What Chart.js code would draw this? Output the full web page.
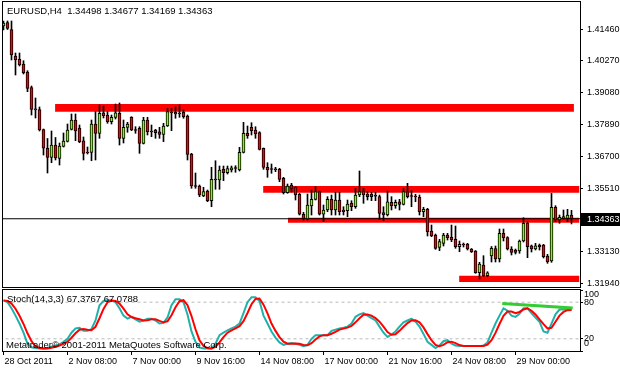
<!DOCTYPE html>
<html lang="en">
<head>
<meta charset="UTF-8">
<title>EURUSD,H4</title>
<script src="https://cdn.jsdelivr.net/npm/chart.js"></script>
<style>
  body { margin: 0; background: #fff; }
  #wrap { position: relative; width: 620px; height: 370px; overflow: hidden; }
  canvas { position: absolute; left: 0; }
  .txt { position: absolute; font-family: "Liberation Sans", Arial, sans-serif; font-size: 9.5px; line-height: 12px; color: #000; white-space: pre; }
</style>
</head>
<body>
<div id="wrap">
  <canvas id="priceChart" width="620" height="288" style="top:0"></canvas>
  <canvas id="stochChart" width="620" height="82" style="top:288px"></canvas>
  <div class="txt" style="left:7px;top:5px">EURUSD,H4  1.34498 1.34677 1.34169 1.34363</div>
  <div class="txt" style="left:7px;top:293px">Stoch(14,3,3) 67.3767 67.0788</div>
  <div class="txt" style="left:6px;top:339px">Metatrader© 2001-2011 MetaQuotes Software Corp.</div>
</div>

<script>
// EURUSD H4 candles, 28 Oct - 1 Dec 2011
const open = [
  1.41580, 1.41703, 1.41449, 1.40456, 1.40333, 1.40157, 1.39857, 1.39277, 1.38461, 1.38453,
  1.37705, 1.37001, 1.36656, 1.37124, 1.36619, 1.37068, 1.37255, 1.37712, 1.38060, 1.37761,
  1.37285, 1.36862, 1.36851, 1.37910, 1.37562, 1.38333, 1.38247, 1.37997, 1.38161, 1.38311,
  1.37375, 1.37787, 1.38161, 1.37705, 1.37749, 1.37188, 1.38060, 1.37648, 1.37686, 1.37622,
  1.37525, 1.37836, 1.38360, 1.38348, 1.38311, 1.38348, 1.38210, 1.36787, 1.35608, 1.35589,
  1.35215, 1.35402, 1.35039, 1.35851, 1.35814, 1.36214, 1.36087, 1.36188, 1.36263, 1.36188,
  1.36851, 1.37562, 1.37787, 1.37686, 1.37585, 1.37001, 1.36289, 1.36226, 1.36214, 1.36214,
  1.35877, 1.35338, 1.35627, 1.35541, 1.35278, 1.34530, 1.34354, 1.34840, 1.35091, 1.35376,
  1.34530, 1.34691, 1.35091, 1.34691, 1.35065, 1.34691, 1.34664, 1.34941, 1.34814, 1.35252,
  1.35413, 1.35290, 1.35278, 1.35215, 1.35189, 1.34590, 1.34503, 1.34979, 1.34852, 1.35001,
  1.34904, 1.35376, 1.35215, 1.35196, 1.35166, 1.34627, 1.34717, 1.33904, 1.33755, 1.33294,
  1.33444, 1.33755, 1.33669, 1.33594, 1.33317, 1.33391, 1.33418, 1.33230, 1.33156, 1.32343,
  1.32631, 1.32231, 1.32968, 1.33249, 1.32856, 1.33818, 1.33654, 1.33230, 1.33193, 1.33156,
  1.33530, 1.34193, 1.33354, 1.33230, 1.33380, 1.33380, 1.32968, 1.32781, 1.34792, 1.34316,
  1.34402, 1.34380, 1.34498
];
const high = [
  1.41767, 1.41767, 1.41767, 1.40569, 1.40569, 1.40280, 1.39906, 1.39333, 1.38884, 1.38547,
  1.37723, 1.37368, 1.37648, 1.37405, 1.37199, 1.37574, 1.37910, 1.38285, 1.38285, 1.37873,
  1.37424, 1.37049, 1.38060, 1.38371, 1.38622, 1.38584, 1.38371, 1.38247, 1.38659, 1.38697,
  1.38060, 1.37974, 1.38184, 1.37809, 1.37809, 1.38161, 1.38161, 1.37873, 1.37712, 1.37787,
  1.37937, 1.38498, 1.38498, 1.38558, 1.38622, 1.38435, 1.38247, 1.36813, 1.36076, 1.35627,
  1.35541, 1.35439, 1.36289, 1.36536, 1.36338, 1.36338, 1.36338, 1.36338, 1.36349, 1.37038,
  1.37974, 1.37836, 1.37959, 1.37809, 1.37622, 1.37012, 1.36462, 1.36413, 1.36289, 1.36252,
  1.35915, 1.35664, 1.35690, 1.35563, 1.35316, 1.34605, 1.35290, 1.35439, 1.35563, 1.35402,
  1.34878, 1.35189, 1.35252, 1.35353, 1.35353, 1.34814, 1.35065, 1.35039, 1.35503, 1.36151,
  1.35503, 1.35376, 1.35353, 1.35353, 1.35252, 1.34814, 1.35402, 1.35189, 1.35065, 1.35091,
  1.35503, 1.35690, 1.35413, 1.35278, 1.35252, 1.34792, 1.34754, 1.34129, 1.33792, 1.33594,
  1.33818, 1.33818, 1.34129, 1.34092, 1.33530, 1.33455, 1.33444, 1.33249, 1.33174, 1.32732,
  1.32980, 1.32381, 1.33324, 1.33343, 1.33979, 1.33979, 1.33691, 1.33317, 1.33230, 1.33567,
  1.34402, 1.34253, 1.33380, 1.33444, 1.33418, 1.33406, 1.33032, 1.35316, 1.34852, 1.34503,
  1.34691, 1.34717, 1.34677
];
const low = [
  1.41430, 1.41449, 1.40307, 1.39745, 1.40082, 1.39782, 1.39120, 1.38247, 1.38135, 1.37648,
  1.36750, 1.36076, 1.36462, 1.36563, 1.36375, 1.37049, 1.37237, 1.37686, 1.37285, 1.37210,
  1.36563, 1.36787, 1.36536, 1.36563, 1.37375, 1.38135, 1.37937, 1.37910, 1.38098, 1.37124,
  1.37199, 1.37600, 1.37660, 1.37562, 1.36813, 1.37162, 1.37499, 1.37435, 1.37375, 1.37375,
  1.37248, 1.37817, 1.37660, 1.38124, 1.38161, 1.38124, 1.36563, 1.35503, 1.35503, 1.35189,
  1.35189, 1.35001, 1.34814, 1.35466, 1.35466, 1.35788, 1.36038, 1.36113, 1.36102, 1.36151,
  1.36825, 1.37375, 1.37499, 1.37375, 1.36937, 1.36214, 1.35915, 1.36065, 1.36125, 1.35750,
  1.35290, 1.35316, 1.35365, 1.35065, 1.34503, 1.34316, 1.34316, 1.34503, 1.35065, 1.34503,
  1.34253, 1.34627, 1.34503, 1.34503, 1.34503, 1.34503, 1.34440, 1.34664, 1.34754, 1.35189,
  1.34941, 1.35065, 1.35039, 1.35039, 1.34342, 1.34290, 1.34466, 1.34691, 1.34754, 1.34691,
  1.34878, 1.35140, 1.34814, 1.35001, 1.34503, 1.34440, 1.33717, 1.33691, 1.33219, 1.33167,
  1.33343, 1.33567, 1.33504, 1.33257, 1.33129, 1.33305, 1.33193, 1.33099, 1.32321, 1.32107,
  1.32193, 1.32193, 1.32744, 1.32744, 1.32744, 1.33530, 1.33193, 1.33006, 1.33043, 1.33069,
  1.33493, 1.32905, 1.33118, 1.33193, 1.33193, 1.32894, 1.32695, 1.32732, 1.34253, 1.34193,
  1.34354, 1.34253, 1.34169
];
const close = [
  1.41692, 1.41493, 1.40494, 1.40307, 1.40119, 1.39831, 1.39247, 1.38461, 1.38442, 1.37686,
  1.37001, 1.36656, 1.37124, 1.36638, 1.37087, 1.37274, 1.37686, 1.38060, 1.37648, 1.37248,
  1.36813, 1.36825, 1.37910, 1.37562, 1.38311, 1.38221, 1.37997, 1.38161, 1.38333, 1.37375,
  1.37787, 1.37910, 1.37686, 1.37667, 1.37188, 1.38060, 1.37622, 1.37611, 1.37585, 1.37525,
  1.37836, 1.38371, 1.38322, 1.38285, 1.38285, 1.38184, 1.36776, 1.35589, 1.35570, 1.35252,
  1.35376, 1.35039, 1.35840, 1.35814, 1.36188, 1.36087, 1.36237, 1.36274, 1.36244, 1.36851,
  1.37562, 1.37472, 1.37660, 1.37536, 1.36963, 1.36289, 1.36188, 1.36207, 1.36196, 1.35840,
  1.35338, 1.35589, 1.35503, 1.35252, 1.34530, 1.34354, 1.34878, 1.35091, 1.35376, 1.34530,
  1.34691, 1.35091, 1.34691, 1.35065, 1.34627, 1.34627, 1.34915, 1.34814, 1.35252, 1.35376,
  1.35252, 1.35189, 1.35189, 1.35204, 1.34567, 1.34503, 1.35001, 1.34852, 1.34979, 1.34904,
  1.35376, 1.35189, 1.35196, 1.35177, 1.34627, 1.34717, 1.33878, 1.33717, 1.33257, 1.33504,
  1.33755, 1.33654, 1.33567, 1.33317, 1.33406, 1.33380, 1.33230, 1.33129, 1.32343, 1.32669,
  1.32231, 1.32343, 1.33257, 1.32856, 1.33818, 1.33654, 1.33230, 1.33107, 1.33107, 1.33530,
  1.34193, 1.33317, 1.33230, 1.33354, 1.33305, 1.32942, 1.32755, 1.34792, 1.34316, 1.34417,
  1.34440, 1.34503, 1.34363
];

// Stochastic(14,3,3): main and signal lines
const stochMain = [
  83, 80, 70, 58, 45, 30, 12, 6, 5, 4,
  4, 5, 7, 9, 11, 15, 20, 30, 37, 38,
  33, 33, 36, 50, 75, 82, 83, 83, 80, 70,
  58, 53, 56, 52, 48, 50, 53, 53, 50, 45,
  46, 55, 75, 85, 85, 80, 60, 32, 15, 6,
  4, 4, 4, 12, 26, 30, 34, 37, 40, 45,
  62, 80, 88, 88, 82, 58, 45, 32, 22, 14,
  10, 12, 13, 12, 10, 8, 10, 20, 26, 26,
  26, 26, 33, 35, 37, 38, 40, 45, 56, 60,
  62, 58, 54, 50, 40, 30, 23, 27, 32, 40,
  47, 50, 53, 48, 40, 28, 15, 10, 5, 9,
  16, 18, 12, 9, 8, 8, 8, 8, 8, 8,
  9, 14, 30, 45, 58, 70, 66, 58, 56, 61,
  70, 70, 62, 55, 48, 32, 30, 45, 60, 68,
  68.5, 68, 67.3767
];
const stochSignal = [
  83, 82, 77.7, 69.3, 57.7, 44.3, 29, 16, 7.7, 5,
  4.3, 4.3, 5.3, 7, 9, 11.7, 15.3, 21.7, 29, 35,
  36, 34.7, 34, 39.7, 53.7, 69, 80, 82.7, 82, 77.7,
  69.3, 60.3, 55.7, 53.7, 52, 50, 50.3, 52, 52, 49.3,
  47, 48.7, 58.7, 71.7, 81.7, 83.3, 75, 57.3, 35.7, 17.7,
  8.3, 4.7, 4, 6.7, 14, 22.7, 30, 33.7, 37, 40.7,
  49, 62.3, 76.7, 85.3, 86, 76, 61.7, 45, 33, 22.7,
  15.3, 12, 11.7, 12.3, 11.7, 10, 9.3, 12.7, 18.7, 24,
  26, 26, 28.3, 31.3, 35, 36.7, 38.3, 41, 47, 53.7,
  59.3, 60, 58, 54, 48, 40, 31, 26.7, 27.3, 33,
  39.7, 45.7, 50, 50.3, 47, 38.7, 27.7, 17.7, 10, 8,
  10, 14.3, 15.3, 13, 9.7, 8.3, 8, 8, 8, 8,
  8.3, 10.3, 17.7, 29.7, 44.3, 57.7, 64.7, 64.7, 62, 64,
  68, 70, 66, 60, 52, 44, 37, 38, 48, 58,
  64, 67, 67.0788
];
const stochLevels = [20, 80];

// drawn objects: support/resistance rectangles (bar index range, price range)
const bandStart = [12.9, 64.9, 71.1, 113.9];
const bandEnd = [142.6, 144, 144, 144];
const bandHigh = [1.38659, 1.35589, 1.34402, 1.32231];
const bandLow = [1.38371, 1.35338, 1.34215, 1.31995];

// trend line on the stochastic window
const trendBars = [124.7, 142.3];
const trendValues = [78, 70.5];

const bidPrice = 1.34363;
const bidLabel = '1.34363';

const priceTicks = [1.31940, 1.33130, 1.35510, 1.36700, 1.37890, 1.39080, 1.40270, 1.41460];
const priceTickLabels = ['1.31940', '1.33130', '1.35510', '1.36700', '1.37890', '1.39080', '1.40270', '1.41460'];
const stochTicks = [0, 20, 80, 100];
const stochTickLabels = ['0', '20', '80', '100'];
const dateTickBars = [0, 16, 32, 48, 64, 80, 96, 112, 128];
const dateLabels = ['28 Oct 2011', '2 Nov 08:00', '7 Nov 00:00', '9 Nov 16:00', '14 Nov 08:00',
                    '17 Nov 00:00', '21 Nov 16:00', '24 Nov 08:00', '29 Nov 00:00'];

const axisFont = { family: '"Liberation Sans", Arial, sans-serif', size: 9 };
const bullColor = '#7CFC00';
const bearColor = '#FF0000';

// --- build datasets ---
const wickData = open.map((o, i) => ({ x: i, y: [low[i], high[i]] }));
const bodyData = open.map((o, i) => ({ x: i, y: [o, close[i]] }));
const bodyColors = open.map((o, i) => close[i] >= o ? bullColor : bearColor);

const bandSets = bandHigh.map((h, i) => ({
    type: 'line',
    data: [{ x: bandStart[i], y: h }, { x: bandEnd[i], y: h }],
    fill: { value: bandLow[i] },
    backgroundColor: '#FF0000',
    borderWidth: 0,
    pointRadius: 0,
    order: 10
}));

// keep the plot area fixed: no extra room for half labels at the ends
function noPad(s) {
    s.paddingTop = 0;
    s.paddingBottom = 0;
    s.paddingLeft = 0;
    s.paddingRight = 0;
}

const framePlugin = {
    id: 'frame',
    afterDraw(chart) {
        const { ctx, chartArea: a } = chart;
        ctx.save();
        ctx.strokeStyle = '#000';
        ctx.lineWidth = 1;
        ctx.strokeRect(a.left - 0.5, a.top - 0.5, a.right - a.left + 1, a.bottom - a.top + 1);
        ctx.restore();
    }
};

// black box with the current bid on the price scale
const bidPlugin = {
    id: 'bidBox',
    afterDraw(chart) {
        const { ctx, chartArea: a } = chart;
        const y = Math.round(chart.scales.y.getPixelForValue(bidPrice));
        ctx.save();
        ctx.fillStyle = '#000';
        ctx.fillRect(a.right + 1, y - 6, chart.width - a.right - 1, 13);
        ctx.fillStyle = '#fff';
        ctx.font = '9px "Liberation Sans", Arial, sans-serif';
        ctx.textBaseline = 'middle';
        ctx.fillText(bidLabel, a.right + 7, y + 0.5);
        ctx.restore();
    }
};

// stochastic scale labels, kept inside the window like the terminal does
const stochLabelPlugin = {
    id: 'stochLabels',
    afterDraw(chart) {
        const { ctx, chartArea: a } = chart;
        const s = chart.scales.y;
        ctx.save();
        ctx.fillStyle = '#000';
        ctx.font = '9px "Liberation Sans", Arial, sans-serif';
        ctx.textBaseline = 'middle';
        stochTicks.forEach((v, i) => {
            let y = s.getPixelForValue(v);
            y = Math.min(Math.max(y, a.top + 5), a.bottom - 7);
            ctx.fillText(stochTickLabels[i], a.right + 4, y);
        });
        ctx.restore();
    }
};

new Chart(document.getElementById('priceChart'), {
    type: 'bar',
    data: {
        datasets: [
            ...bandSets,
            {
                type: 'line',
                data: [{ x: -1, y: bidPrice }, { x: 145, y: bidPrice }],
                borderColor: '#000',
                borderWidth: 1,
                pointRadius: 0,
                order: 5
            },
            {
                data: wickData,
                backgroundColor: '#000',
                barThickness: 1,
                grouped: false,
                order: 2
            },
            {
                data: bodyData,
                backgroundColor: bodyColors,
                borderColor: '#000',
                borderWidth: 1,
                borderSkipped: false,
                barThickness: 3,
                minBarLength: 1,
                grouped: false,
                order: 1
            }
        ]
    },
    options: {
        responsive: false,
        animation: false,
        devicePixelRatio: 1,
        layout: { padding: { left: 3, top: 2, right: 0, bottom: 1 } },
        plugins: { legend: { display: false }, tooltip: { enabled: false } },
        scales: {
            x: { type: 'linear', display: false, min: -0.125, max: 144.125, offset: false },
            y: {
                position: 'right',
                min: 1.31808,
                max: 1.42478,
                afterFit: s => { s.width = 40; noPad(s); },
                afterBuildTicks: s => { s.ticks = priceTicks.map(v => ({ value: v })); },
                grid: { drawOnChartArea: false, tickLength: 3, color: '#000' },
                border: { display: false },
                ticks: { padding: 4, color: '#000', font: axisFont, callback: (v, i) => priceTickLabels[i] }
            }
        }
    },
    plugins: [framePlugin, bidPlugin]
});

new Chart(document.getElementById('stochChart'), {
    type: 'line',
    data: {
        datasets: [
            ...stochLevels.map(lv => ({
                data: [{ x: -1, y: lv }, { x: 145, y: lv }],
                borderColor: '#BBBBBB',
                borderWidth: 1,
                borderDash: [3, 3],
                order: 5
            })),
            {
                data: stochMain.map((v, i) => ({ x: i, y: v })),
                borderColor: '#20B2AA',
                borderWidth: 2,
                order: 2
            },
            {
                data: stochSignal.map((v, i) => ({ x: i, y: v })),
                borderColor: '#FF0000',
                borderWidth: 2,
                order: 1
            },
            {
                data: trendBars.map((b, i) => ({ x: b, y: trendValues[i] })),
                borderColor: '#32CD32',
                borderWidth: 3,
                order: 0
            }
        ]
    },
    options: {
        responsive: false,
        animation: false,
        devicePixelRatio: 1,
        layout: { padding: { left: 3, top: 2, right: 0, bottom: 0 } },
        elements: { point: { radius: 0 }, line: { tension: 0 } },
        plugins: { legend: { display: false }, tooltip: { enabled: false } },
        scales: {
            x: {
                type: 'linear',
                min: -0.125,
                max: 144.125,
                afterFit: s => { s.height = 19; noPad(s); },
                afterBuildTicks: s => { s.ticks = dateTickBars.map(v => ({ value: v })); },
                grid: { drawOnChartArea: false, tickLength: 4, color: '#000' },
                border: { display: false },
                ticks: {
                    autoSkip: false, maxRotation: 0, align: 'start', padding: 1, labelOffset: 1,
                    color: '#000', font: axisFont, callback: (v, i) => dateLabels[i]
                }
            },
            y: {
                position: 'right',
                min: 0,
                max: 100,
                afterFit: s => { s.width = 40; noPad(s); },
                afterBuildTicks: s => { s.ticks = stochTicks.map(v => ({ value: v })); },
                grid: { drawOnChartArea: false, tickLength: 3, color: '#000' },
                border: { display: false },
                ticks: { display: false }
            }
        }
    },
    plugins: [framePlugin, stochLabelPlugin]
});
</script>
</body>
</html>
